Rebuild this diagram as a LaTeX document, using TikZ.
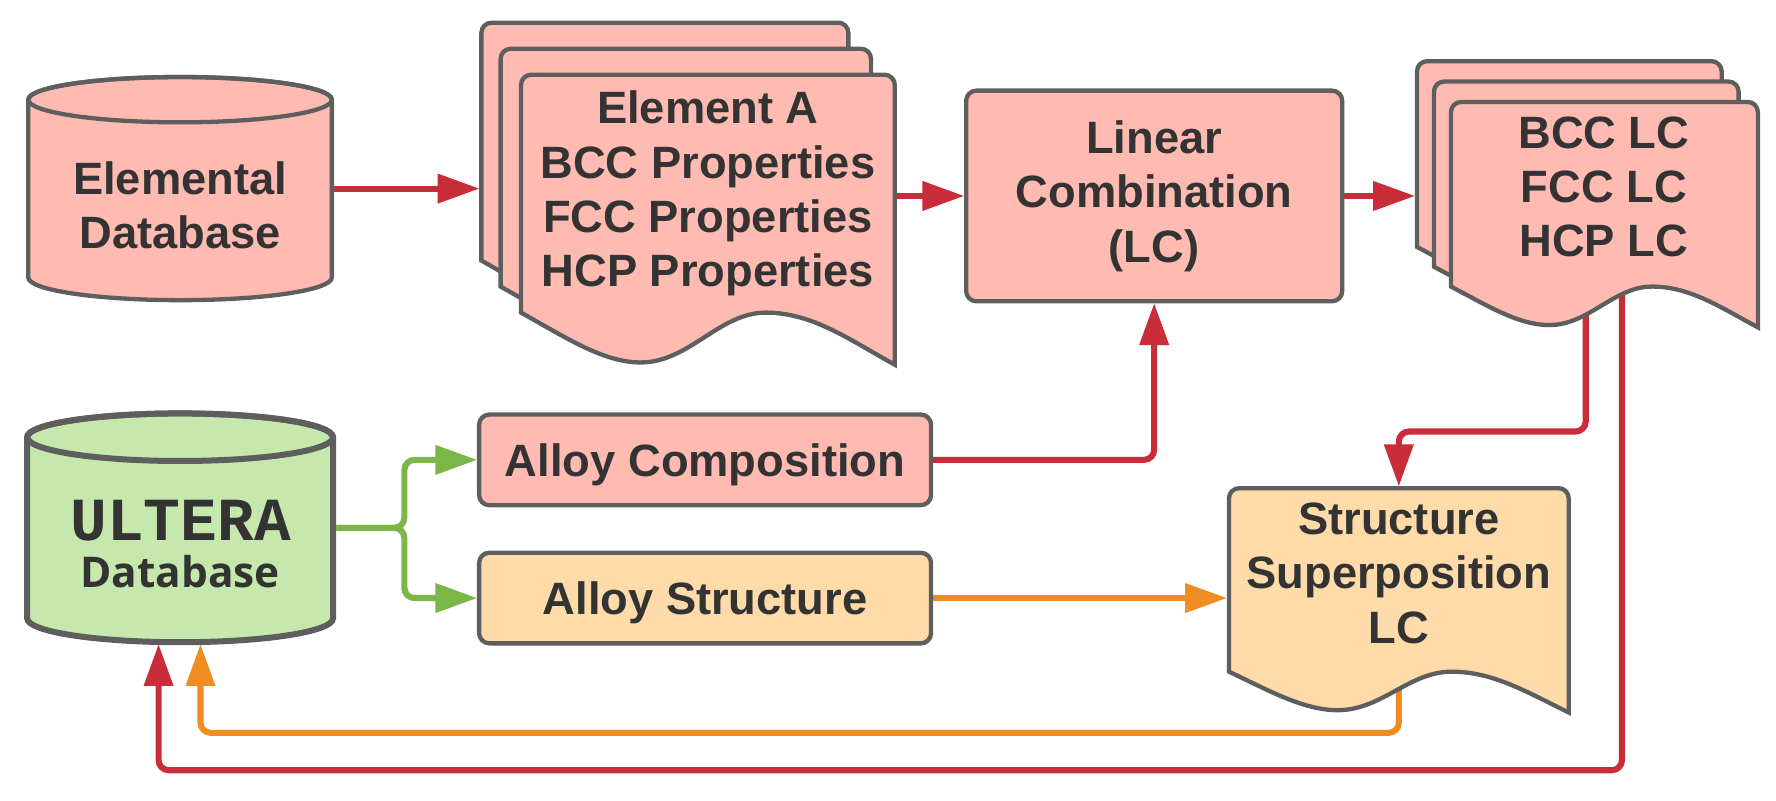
\documentclass[tikz,border=0pt]{standalone}
\usepackage{fontspec}
\setmainfont{Liberation Sans}
\newfontfamily\monofnt{Liberation Mono}
\newfontfamily\dbfnt{Open Sans}
\usetikzlibrary{arrows.meta,calc}
\definecolor{pinkfill}{HTML}{FFBBB1}
\definecolor{greenfill}{HTML}{C7E8AC}
\definecolor{orangefill}{HTML}{FFDBA9}
\definecolor{bordergray}{HTML}{5E5E5E}
\definecolor{lred}{HTML}{C92D39}
\definecolor{lgreen}{HTML}{7AB648}
\definecolor{lorange}{HTML}{EF8D22}
\definecolor{txtgray}{HTML}{333333}
\pgfdeclarelayer{links}
\pgfdeclarelayer{shapes}
\pgfsetlayers{links,shapes,main}
% #1 fill, #2 left, #3 top, #4 right, #5 left-bottom (crest level), #6 trough level
\newcommand\docshape[6]{%
  \path[shapeline, fill=#1] (#4,{#3+9}) arc[start angle=0, end angle=90, radius=4.5pt]
    -- ({#2+9},#3) arc[start angle=90, end angle=180, radius=4.5pt]
    -- (#2,#5)
    .. controls ({#2+0.12*(#4-#2)},{#5+0.5*(#6-#5)}) and ({#2+0.22*(#4-#2)},#6) .. ({#2+0.32*(#4-#2)},#6)
    .. controls ({#2+0.45*(#4-#2)},#6) and ({#2+0.53*(#4-#2)},#5) .. ({#2+0.655*(#4-#2)},#5)
    .. controls ({#2+0.78*(#4-#2)},#5) and ({#2+0.88*(#4-#2)},{#6-0.45*(#6-#5)}) .. (#4,{#6+2})
    -- cycle;}
\begin{document}
\begin{tikzpicture}[x=0.5pt,y=-0.5pt,
  txt/.style={inner sep=0pt, outer sep=0pt, align=center, text=txtgray,
    font=\fontsize{20pt}{24pt}\selectfont\bfseries},
  anchorbox/.style={inner sep=0pt, outer sep=0pt},
  rbox/.style={txt, draw=bordergray, line width=1.9pt, rounded corners=4.5pt},
  shapeline/.style={draw=bordergray, line width=1.9pt},
  link/.style={line width=2.7pt, rounded corners=4.5pt,
    -{Triangle[length=18.5pt,width=12.5pt]}, shorten >=0.8pt}]
\useasboundingbox (0,0) rectangle (1568,707);

% anchor boxes for the drawn shapes
\node[anchorbox, minimum width=134pt, minimum height=98.5pt] (edb) at (159,166.5) {};
\node[anchorbox, minimum width=135pt, minimum height=101pt] (ult) at (159,466) {};
\node[anchorbox, minimum width=162pt, minimum height=128pt] (docA1) at (587,148) {};
\node[anchorbox, minimum width=163.5pt, minimum height=128pt] (docA2) at (605.5,171) {};
\node[anchorbox, minimum width=165pt, minimum height=128pt] (docA3) at (625,194) {};
\node[anchorbox, minimum width=134.5pt, minimum height=100pt] (lcd1) at (1385.5,154) {};
\node[anchorbox, minimum width=134.5pt, minimum height=100pt] (lcd2) at (1400.5,172) {};
\node[anchorbox, minimum width=135.5pt, minimum height=100pt] (lcd3) at (1416.5,190) {};
\node[anchorbox, minimum width=150pt, minimum height=99pt] (sslc) at (1235,530) {};

% boxes
\node[rbox, fill=pinkfill, minimum width=166pt, minimum height=93pt] (lc) at (1019,173) {Linear\\Combination\\(LC)};
\node[rbox, fill=pinkfill, minimum width=199.5pt, minimum height=40pt, text height=14.3pt, text depth=0pt] (ac) at (622.5,406) {Alloy Composition};
\node[rbox, fill=orangefill, minimum width=199.5pt, minimum height=40pt, text height=14.3pt, text depth=0pt] (as) at (622.5,528) {Alloy Structure};

% texts
\node[txt] (edbt) at (159,181) {Elemental\\Database};
\node[anchor=base, inner sep=0pt, text=txtgray, font=\fontsize{27pt}{30pt}\selectfont\monofnt\bfseries] (ultt) at (159.5,477) {ULTERA};
\node[anchor=base, inner sep=0pt, text=txtgray, font=\fontsize{18.7pt}{22pt}\selectfont\dbfnt\bfseries] (ultdb) at (159,519) {Database};
\node[txt] (docAt) at (625,171) {Element A\\BCC Properties\\FCC Properties\\HCP Properties};
\node[txt] (lcdt) at (1416,165) {BCC LC\\FCC LC\\HCP LC};
\node[txt] (sslct) at (1235,506) {Structure\\Superposition\\LC};

\begin{pgfonlayer}{shapes}
\path[shapeline, fill=pinkfill] (25,88) -- (25,245)
  arc[start angle=180, end angle=360, x radius=67pt, y radius=10pt] -- (293,88)
  arc[start angle=0, end angle=180, x radius=67pt, y radius=10pt] -- cycle;
\draw[shapeline] (159,88) ellipse [x radius=67pt, y radius=10pt];
\path[shapeline, line width=2.65pt, fill=greenfill] (24,386) -- (24,546)
  arc[start angle=180, end angle=360, x radius=67.5pt, y radius=10.5pt] -- (294,386)
  arc[start angle=0, end angle=180, x radius=67.5pt, y radius=10.5pt] -- cycle;
\draw[shapeline, line width=2.65pt] (159,386) ellipse [x radius=67.5pt, y radius=10.5pt];
\docshape{pinkfill}{425}{20}{749}{230}{274}
\docshape{pinkfill}{442}{43}{769}{253}{297}
\docshape{pinkfill}{460}{66}{790}{276}{320}
\docshape{pinkfill}{1251}{54}{1520}{218}{252}
\docshape{pinkfill}{1266}{72}{1535}{235.5}{269.5}
\docshape{pinkfill}{1281}{90}{1552}{253}{287}
\docshape{orangefill}{1085}{431}{1385}{593}{627}
\end{pgfonlayer}

\begin{pgfonlayer}{links}
\draw[link, lred] (edb.east) -- (edb.east -| docA1.west);
\draw[link, lred] (docA3.east |- lc.west) -- (lc.west);
\draw[link, lred] (lc.east) -- (lc.east -| lcd1.west);
\draw[link, lred] (ac.east) -| (lc.south);
\draw[link, lorange] (as.east) -- (as.east -| sslc.west);
\coordinate (fork) at ($(ult.east)+(63,0)$);
\draw[link, lgreen] (ult.east) -- (fork) |- (ac.west);
\draw[link, lgreen] (ult.east) -- (fork) |- (as.west);
\coordinate (lcdA) at ($(lcd3.center)+(-16.5,0)$);
\coordinate (lcdB) at ($(lcd3.center)+(15.5,0)$);
\coordinate (ultA) at ($(ult.south)+(-19,0)$);
\coordinate (ultB) at ($(ult.south)+(18,0)$);
\coordinate (bendS) at ($(sslc.north)+(0,-50)$);
\coordinate (bendA) at ($(ultA)+(0,113)$);
\coordinate (bendB) at ($(ultB)+(0,80)$);
\draw[link, lred] (lcdA) |- (bendS) -- (sslc.north);
\draw[link, lred] (lcdB) |- (bendA) -- (ultA);
\draw[link, lorange] (sslc.center) |- (bendB) -- (ultB);
\end{pgfonlayer}
\end{tikzpicture}
\end{document}
